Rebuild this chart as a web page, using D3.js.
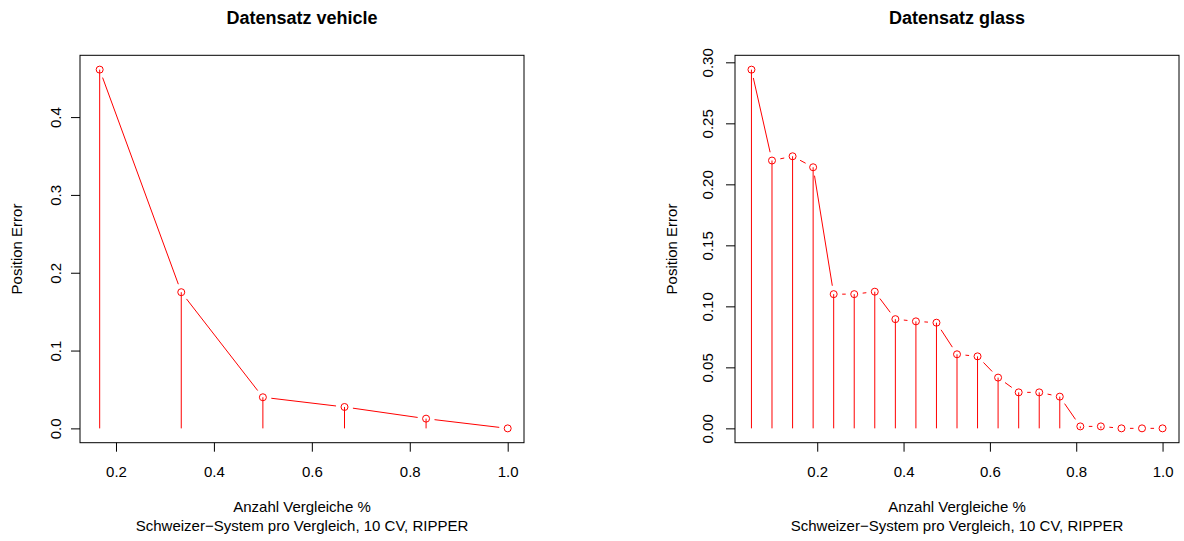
<!DOCTYPE html>
<html>
<head>
<meta charset="utf-8">
<script src="https://cdn.jsdelivr.net/npm/d3@7"></script>
<style>
  html, body { margin: 0; padding: 0; background: #fff; }
  svg { display: block; font-family: "Liberation Sans", Arial, Helvetica, sans-serif; }
</style>
</head>
<body>
<svg id="chart" width="1184" height="541"></svg>
<script>
// Share of comparisons (x) and position error (y) for each data set
const vehicleX = [0.1667, 0.3333, 0.5, 0.6667, 0.8333, 1.0];
const vehicleY = [0.461, 0.175, 0.040, 0.0275, 0.0125, 0.0];

const glassX = [0.0476, 0.0952, 0.1429, 0.1905, 0.2381, 0.2857, 0.3333,
                0.3810, 0.4286, 0.4762, 0.5238, 0.5714, 0.6190, 0.6667,
                0.7143, 0.7619, 0.8095, 0.8571, 0.9048, 0.9524, 1.0];
const glassY = [0.294, 0.2195, 0.223, 0.214, 0.110, 0.110, 0.112,
                0.0895, 0.0877, 0.0866, 0.0607, 0.059, 0.0416, 0.0295,
                0.0295, 0.026, 0.0016, 0.0016, 0.0, 0.0, 0.0];

const xTicks = [0.2, 0.4, 0.6, 0.8, 1.0];
const vehicleYTicks = [0.0, 0.1, 0.2, 0.3, 0.4];
const glassYTicks = [0.00, 0.05, 0.10, 0.15, 0.20, 0.25, 0.30];

const titles = ["Datensatz vehicle", "Datensatz glass"];
const xLabel1 = "Anzahl Vergleiche %";
const xLabel2 = "Schweizer\u2212System pro Vergleich, 10 CV, RIPPER";
const yLabel = "Position Error";

const svg = d3.select("#chart");
const RED = "#ff0000";
const GAP = 8.5;   // gap left around each point by the connecting lines

function panel(cfg) {
  const { left, right, top, bottom } = cfg.box;
  const x = d3.scaleLinear().domain(cfg.xDomain).range([left, right]);
  const y = d3.scaleLinear().domain(cfg.yDomain).range([bottom, top]);
  const g = svg.append("g");

  // x axis
  const xa = g.append("g")
    .attr("transform", `translate(0,${bottom})`)
    .call(d3.axisBottom(x).tickValues(xTicks).tickFormat(d3.format(".1f"))
      .tickSize(9).tickSizeOuter(0).tickPadding(14.3));
  xa.select(".domain").remove();
  xa.selectAll("line").attr("stroke", "#000");
  xa.selectAll("text").attr("font-size", 15).attr("font-family", null).attr("fill", "#000");

  // y axis with rotated labels
  const ya = g.append("g")
    .attr("transform", `translate(${left},0)`)
    .call(d3.axisLeft(y).tickValues(cfg.yTicks).tickFormat(d3.format(cfg.yFmt))
      .tickSize(9).tickSizeOuter(0));
  ya.select(".domain").remove();
  ya.selectAll("line").attr("stroke", "#000");
  ya.selectAll("text")
    .attr("x", null).attr("dy", null)
    .attr("text-anchor", "middle")
    .attr("font-size", 15).attr("font-family", null).attr("fill", "#000")
    .attr("transform", `translate(${-cfg.yLabelOffset},0) rotate(-90)`);

  // frame
  g.append("rect")
    .attr("x", left).attr("y", top)
    .attr("width", right - left).attr("height", bottom - top)
    .attr("fill", "none").attr("stroke", "#000").attr("stroke-width", 1);

  const pts = cfg.xs.map((v, i) => [x(v), y(cfg.ys[i])]);

  // vertical stems from zero
  g.append("g").selectAll("line").data(pts).join("line")
    .attr("x1", d => d[0]).attr("x2", d => d[0])
    .attr("y1", y(0)).attr("y2", d => d[1])
    .attr("stroke", RED).attr("stroke-width", 1);

  // connecting segments, trimmed around the points
  const segs = [];
  for (let i = 0; i < pts.length - 1; i++) {
    const [x0, y0] = pts[i], [x1, y1] = pts[i + 1];
    const dx = x1 - x0, dy = y1 - y0, d = Math.hypot(dx, dy);
    if (d > 2 * GAP) {
      const ux = dx / d, uy = dy / d;
      segs.push([x0 + ux * GAP, y0 + uy * GAP, x1 - ux * GAP, y1 - uy * GAP]);
    }
  }
  g.append("g").selectAll("line").data(segs).join("line")
    .attr("x1", d => d[0]).attr("y1", d => d[1])
    .attr("x2", d => d[2]).attr("y2", d => d[3])
    .attr("stroke", RED).attr("stroke-width", 1);

  // open circles
  g.append("g").selectAll("circle").data(pts).join("circle")
    .attr("cx", d => d[0]).attr("cy", d => d[1]).attr("r", 3.5)
    .attr("fill", "none").attr("stroke", RED).attr("stroke-width", 1);

  const cx = (left + right) / 2;
  g.append("text").attr("x", cx).attr("y", 24)
    .attr("text-anchor", "middle").attr("font-size", 18).attr("font-weight", "bold")
    .text(cfg.title);
  g.append("text").attr("x", cx).attr("y", 512)
    .attr("text-anchor", "middle").attr("font-size", 15).text(xLabel1);
  g.append("text").attr("x", cx).attr("y", 531)
    .attr("text-anchor", "middle").attr("font-size", 15).text(xLabel2);
  g.append("text")
    .attr("transform", `translate(${left - 58},${(top + bottom) / 2}) rotate(-90)`)
    .attr("text-anchor", "middle").attr("font-size", 15).text(yLabel);
}

panel({
  box: { left: 80, right: 524, top: 55.3, bottom: 442.7 },
  xDomain: [0.1265, 1.0333],
  yDomain: [-0.0184, 0.4794],
  xs: vehicleX, ys: vehicleY,
  yTicks: vehicleYTicks, yFmt: ".1f", yLabelOffset: 19.5,
  title: titles[0]
});

panel({
  box: { left: 735, right: 1179, top: 55.3, bottom: 442.7 },
  xDomain: [0.0095, 1.0381],
  yDomain: [-0.01176, 0.30576],
  xs: glassX, ys: glassY,
  yTicks: glassYTicks, yFmt: ".2f", yLabelOffset: 22,
  title: titles[1]
});
</script>
</body>
</html>
